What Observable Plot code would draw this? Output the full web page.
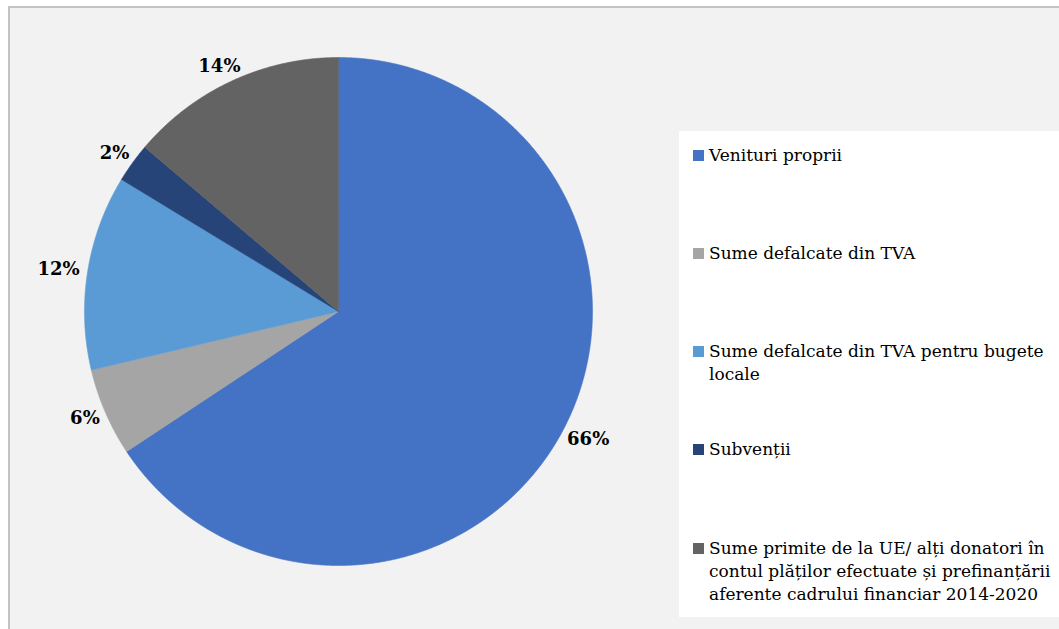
<!DOCTYPE html>
<html>
<head>
<meta charset="utf-8">
<script src="https://cdn.jsdelivr.net/npm/d3@7"></script>
<script src="https://cdn.jsdelivr.net/npm/@observablehq/plot@0.6"></script>
<style>
  html, body { margin: 0; padding: 0; background: #ffffff; }
  #wrap { position: relative; width: 1059px; height: 629px; overflow: hidden; font-family: "DejaVu Serif", serif; }
  #frame { position: absolute; left: 8px; top: 6px; width: 1070px; height: 640px; box-sizing: border-box;
           border-top: 2px solid #c3c3c3; border-left: 2px solid #c3c3c3; background: #f2f2f2; }
  #chart { position: absolute; left: 0; top: 0; }
  #legend { position: absolute; left: 679px; top: 131px; width: 400px; height: 486px; background: #ffffff;
            box-sizing: border-box; padding-top: 12.5px; }
  .item { position: relative; height: 98.25px; }
  .sw { position: absolute; left: 14px; top: 6px; width: 11px; height: 11px; }
  .tx { position: absolute; left: 30px; top: 0; width: 342px; font-size: 17px; line-height: 23px; color: #000; }
</style>
</head>
<body>
<div id="wrap">
  <div id="frame"></div>
  <div id="chart"></div>
  <div id="legend"></div>
</div>
<script>
// ---- data ----
const categories = [
  "Venituri proprii",
  "Sume defalcate din TVA",
  "Sume defalcate din TVA pentru bugete locale",
  "Subvenții",
  "Sume primite de la UE/ alți donatori în contul plăților efectuate și prefinanțării aferente cadrului financiar 2014-2020"
];
const shares = [65.7, 5.6, 12.4, 2.5, 13.8];
const shareLabels = ["66%", "6%", "12%", "2%", "14%"];
const colors = ["#4472c4", "#a5a5a5", "#5b9bd5", "#264478", "#636363"];

// ---- geometry from data (angles clockwise from 12 o'clock) ----
const radiusPx = 254;
const arcs = d3.pie().sort(null).value(d => d)(shares);
const slicePoints = [];
arcs.forEach((a, i) => {
  const key = categories[i];
  slicePoints.push({key, x: 0, y: 0});
  const n = Math.max(2, Math.ceil((a.endAngle - a.startAngle) / 0.004));
  for (let k = 0; k <= n; k++) {
    const t = a.startAngle + (a.endAngle - a.startAngle) * k / n;
    slicePoints.push({key, x: Math.sin(t), y: Math.cos(t)});
  }
});
// outside-end labels: label box just clears the rim
const labelData = arcs.map((a, i) => {
  const m = (a.startAngle + a.endAngle) / 2;
  const text = shareLabels[i];
  const hw = (text.length * 14.3 / 2) / radiusPx;  // half label width in radius units
  const hh = 8 / radiusPx;                          // half label height in radius units
  const r = 1 + 8 / radiusPx;
  return {
    text,
    x: r * Math.sin(m) + hw * Math.sin(m),
    y: r * Math.cos(m) + hh * Math.cos(m)
  };
});

const chart = Plot.plot({
  width: 660,
  height: 629,
  margin: 0,
  x: {domain: [-1, 1], range: [338 - radiusPx, 338 + radiusPx], axis: null},
  y: {domain: [-1, 1], range: [311 + radiusPx, 311 - radiusPx], axis: null},
  color: {domain: categories, range: colors},
  style: {background: "transparent", overflow: "visible"},
  marks: [
    Plot.line(slicePoints, {x: "x", y: "y", z: "key", fill: "key", stroke: "key", strokeWidth: 0.6, curve: "linear-closed"}),
    Plot.text(labelData, {x: "x", y: "y", text: "text", fill: "#000", fontWeight: "bold", fontSize: 18, fontFamily: "DejaVu Serif"})
  ]
});
document.getElementById("chart").appendChild(chart);

// ---- legend ----
const legend = document.getElementById("legend");
categories.forEach((c, i) => {
  const item = document.createElement("div");
  item.className = "item";
  const sw = document.createElement("div");
  sw.className = "sw";
  sw.style.background = colors[i];
  const tx = document.createElement("div");
  tx.className = "tx";
  tx.textContent = c;
  item.appendChild(sw);
  item.appendChild(tx);
  legend.appendChild(item);
});
</script>
</body>
</html>
